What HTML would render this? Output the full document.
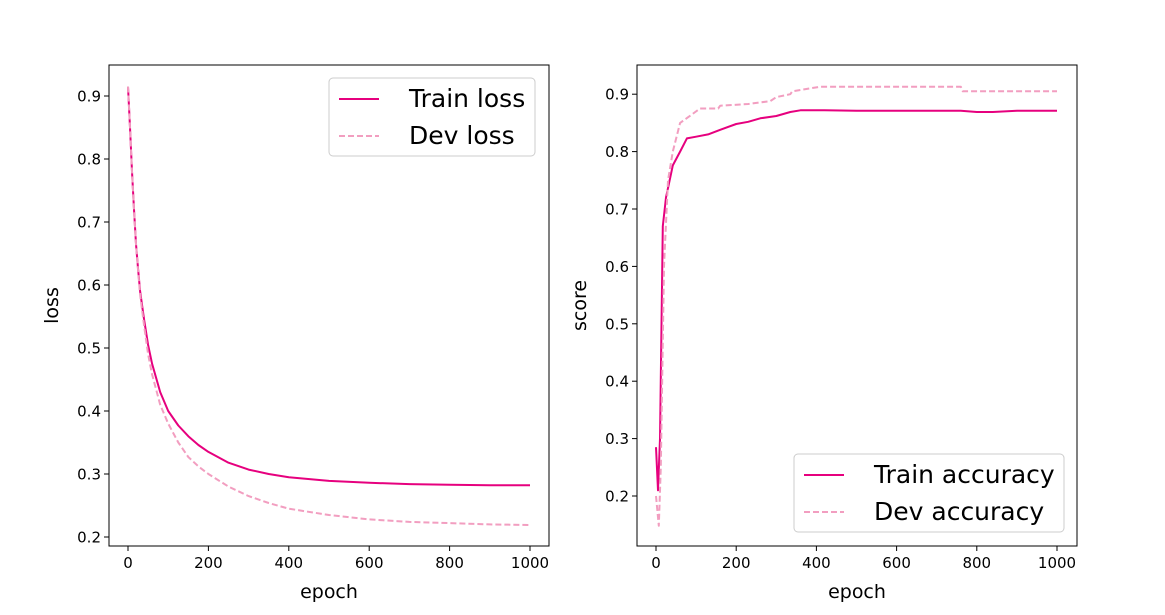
<!DOCTYPE html>
<html><head><meta charset="utf-8"><style>
body{margin:0;background:#fff}
svg{font-family:"DejaVu Sans","Liberation Sans",sans-serif}
</style></head><body>
<svg id="fig" width="1165" height="610"></svg>
<script>
const lossEpochs=[0,5,10,15,20,25,30,40,50,60,80,100,125,150,175,200,250,300,350,400,500,600,700,800,900,1000];
const trainLoss=[0.915,0.85,0.78,0.72,0.665,0.625,0.59,0.545,0.505,0.475,0.43,0.40,0.377,0.36,0.346,0.335,0.318,0.307,0.300,0.295,0.289,0.286,0.284,0.283,0.282,0.282];
const devLoss=[0.915,0.85,0.78,0.72,0.665,0.622,0.585,0.535,0.49,0.458,0.41,0.38,0.35,0.327,0.312,0.30,0.28,0.265,0.254,0.245,0.235,0.228,0.224,0.222,0.220,0.219];
const accEpochs=[0,5,10,17,25,42,60,77,100,130,160,200,230,260,300,335,360,420,500,600,700,760,800,840,900,1000];
const trainAcc=[0.285,0.21,0.30,0.67,0.72,0.776,0.80,0.823,0.826,0.83,0.838,0.848,0.852,0.858,0.862,0.869,0.872,0.872,0.871,0.871,0.871,0.871,0.869,0.869,0.871,0.871];
const devAccEpochs=[0,7,12,20,30,42,60,80,110,155,160,230,285,300,335,340,410,500,600,700,760,765,800,900,1000];
const devAcc=[0.20,0.148,0.25,0.60,0.75,0.80,0.85,0.86,0.875,0.875,0.88,0.883,0.888,0.895,0.9,0.905,0.913,0.913,0.913,0.913,0.913,0.905,0.905,0.905,0.905];
const xTicks=[0,200,400,600,800,1000];
const lossTicks=[0.2,0.3,0.4,0.5,0.6,0.7,0.8,0.9];
const accTicks=[0.2,0.3,0.4,0.5,0.6,0.7,0.8,0.9];
const NS="http://www.w3.org/2000/svg",svg=document.getElementById('fig');
function mk(t,a,p){const e=document.createElementNS(NS,t);for(const k in a)e.setAttribute(k,a[k]);(p||svg).appendChild(e);return e;}
function panel(o){
 const g=mk('g',{});
 
 
 const X=v=>o.x0+(v-0)*o.sx, Y=v=>o.y0-(v-o.yb)*o.sy;
 xTicks.forEach(t=>{const x=X(t);mk('line',{x1:x,x2:x,y1:o.b,y2:o.b+5,stroke:'#000'},g);
  const tx=mk('text',{x:x,y:o.b+22,'text-anchor':'middle','font-size':15},g);tx.textContent=t;
  });
 o.yt.forEach(t=>{const y=Y(t);mk('line',{x1:o.l-5,x2:o.l,y1:y,y2:y,stroke:'#000'},g);
  const tx=mk('text',{x:o.l-8,y:y+5.5,'text-anchor':'end','font-size':15},g);tx.textContent=t.toFixed(1);
  });
 o.series.forEach(s=>{const d=s.xs.map((e,i)=>(i?'L':'M')+X(e).toFixed(1)+','+Y(s.ys[i]).toFixed(1)).join('');
  const p=mk('path',{d:d,fill:'none',stroke:s.c,'stroke-width':2,'stroke-linejoin':'round','stroke-dasharray':s.dash||'none'},g);
  });
 mk('rect',{x:o.l,y:o.t,width:o.r-o.l,height:o.b-o.t,fill:'none',stroke:'#000','stroke-width':1},g);
 const xl=mk('text',{x:(o.l+o.r)/2,y:o.b+52,'text-anchor':'middle','font-size':19},g);xl.textContent='epoch';
 
 const yl=mk('text',{x:0,y:0,'text-anchor':'middle','font-size':19,transform:`translate(${o.l-51},${(o.t+o.b)/2}) rotate(-90)`},g);yl.textContent=o.ylab;
 
 const L=o.leg;const lg=mk('g',{},g);
 
 mk('rect',{x:L.x,y:L.y,width:L.w,height:78,rx:4,fill:'#fff',stroke:'#ccc'},lg);
 o.series.forEach((s,i)=>{const y=L.y+21+i*37;
  mk('line',{x1:L.x+10,x2:L.x+50,y1:y,y2:y,stroke:s.c,'stroke-width':2,'stroke-dasharray':s.dash||'none'},lg);
  const t=mk('text',{x:L.x+80,y:y+8,'font-size':25},lg);t.textContent=s.label;
  });
}
panel({name:'loss-chart',l:109,r:549,t:65,b:546,x0:128,sx:0.402,y0:537,yb:0.2,sy:630,yt:lossTicks,ylab:'loss',
 leg:{x:329,y:78,w:206},
 series:[{name:'train-loss-line',label:'Train loss',c:'#e6007e',xs:lossEpochs,ys:trainLoss},
         {name:'dev-loss-line',label:'Dev loss',c:'#f29ec0',dash:'6,3',xs:lossEpochs,ys:devLoss}]});
panel({name:'accuracy-chart',l:637,r:1077,t:65,b:546,x0:656,sx:0.401,y0:496,yb:0.2,sy:574,yt:accTicks,ylab:'score',
 leg:{x:794,y:454,w:270},
 series:[{name:'train-accuracy-line',label:'Train accuracy',c:'#e6007e',xs:accEpochs,ys:trainAcc},
         {name:'dev-accuracy-line',label:'Dev accuracy',c:'#f29ec0',dash:'6,3',xs:devAccEpochs,ys:devAcc}]});
</script>
</body></html>
